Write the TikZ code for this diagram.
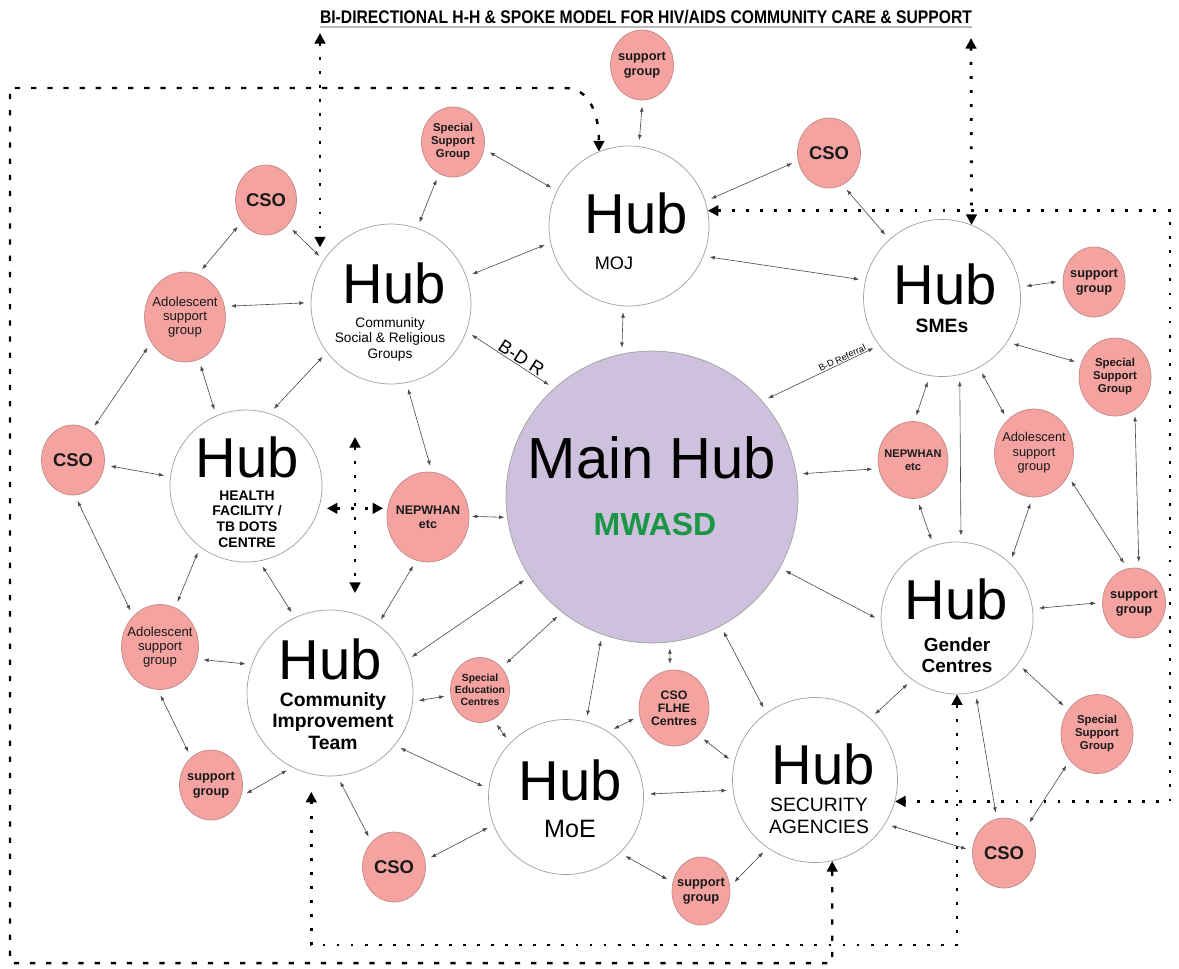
\documentclass[tikz,border=0pt]{standalone}
\usepackage{fontspec}
\usepackage{graphicx}
\setmainfont{Liberation Sans}
\usetikzlibrary{shapes.geometric,arrows.meta}
\definecolor{hubpurple}{HTML}{CEC1DE}
\definecolor{spotfill}{HTML}{F4A3A0}
\definecolor{spotline}{HTML}{C08A88}
\definecolor{mwasdgreen}{HTML}{1A9646}

\begin{document}
\begin{tikzpicture}[
  x=0.02cm, y=-0.02cm,
  hub/.style={circle, draw=gray!75, line width=0.4pt, fill=white, inner sep=0pt},
  hubword/.style={inner sep=0pt, font=\fontsize{32}{34}\selectfont},
  hubcap/.style={inner sep=0pt, align=center},
  spot/.style={ellipse, draw=spotline, line width=0.4pt, fill=spotfill, inner sep=-1cm,
               align=center, text=black!90, minimum width=1.26cm, minimum height=1.4cm,
               font=\bfseries\fontsize{7.3}{8.5}\selectfont},
  cso/.style={spot, font=\bfseries\fontsize{10.5}{12}\selectfont},
  ssg/.style={spot, font=\bfseries\fontsize{6.5}{7.4}\selectfont},
  ado/.style={spot, font=\fontsize{7.5}{8.2}\selectfont},
  nep/.style={spot, font=\bfseries\fontsize{7.1}{8}\selectfont},
  link/.style={>={Latex[length=3pt,width=2.2pt]}, <->, draw=black!70, line width=0.35pt,
               shorten <=3.5pt, shorten >=3.5pt},
  bidots/.style={>={Triangle[length=6pt,width=6pt]}, <->, line width=1.6pt,
                 dash pattern=on 1.6pt off 6.4pt},
  bidash/.style={>={Triangle[length=6pt,width=6pt]}, <->, line width=1.4pt,
                 dash pattern=on 3pt off 6.2pt},
]

\fill[white] (0,0) rectangle (1179,968);
\useasboundingbox (0,0) rectangle (1179,968);

\node[inner sep=0pt] (title) at (646,17)
  {\resizebox{13.04cm}{0.265cm}{\bfseries BI-DIRECTIONAL H-H \& SPOKE MODEL FOR HIV/AIDS COMMUNITY CARE \& SUPPORT}};
\draw[gray!55, line width=0.9pt] ([yshift=-2pt]title.base west) -- ([yshift=-2pt]title.base east);

\node[hub, minimum size=5.84cm, fill=hubpurple] (main) at (652,497) {};
\node[hub, minimum size=3.2cm] (moj) at (629,226) {};
\node[hub, minimum size=3.2cm] (csr) at (391,304) {};
\node[hub, minimum size=3.14cm] (smes) at (942,298) {};
\node[hub, minimum size=3.04cm] (hf) at (246,486) {};
\node[hub, minimum size=3.32cm] (cit) at (330,693) {};
\node[hub, minimum size=3.1cm] (moe) at (566,797) {};
\node[hub, minimum size=3.3cm] (sec) at (815,780) {};
\node[hub, minimum size=3.04cm] (gend) at (957,618) {};

\node[hubword, font=\fontsize{33}{35}\selectfont] (mainword) at (652,458) {Main Hub};
\node[hubcap, font=\bfseries\fontsize{18.2}{20}\selectfont, text=mwasdgreen] (maincap) at (655,524) {MWASD};
\node[hubword] (mojword) at (636,213) {Hub};
\node[hubcap, font=\fontsize{10.3}{12}\selectfont] (mojcap) at (614,263) {MOJ};
\node[hubword] (csrword) at (394,283) {Hub};
\node[hubcap, font=\fontsize{7.8}{8.8}\selectfont] (csrcap) at (390,339) {Community\\Social \& Religious\\Groups};
\node[hubword] (smesword) at (945,284) {Hub};
\node[hubcap, font=\bfseries\fontsize{11}{12}\selectfont] (smescap) at (942,326) {SMEs};
\node[hubword] (hfword) at (247,457) {Hub};
\node[hubcap, font=\bfseries\fontsize{7.9}{9}\selectfont] (hfcap) at (247,519) {HEALTH\\FACILITY /\\TB DOTS\\CENTRE};
\node[hubword] (citword) at (330,659) {Hub};
\node[hubcap, font=\bfseries\fontsize{11}{12.4}\selectfont] (citcap) at (333,721) {Community\\Improvement\\Team};
\node[hubword] (moeword) at (570,780) {Hub};
\node[hubcap, font=\fontsize{14.3}{16}\selectfont] (moecap) at (570,829) {MoE};
\node[hubword] (secword) at (823,764) {Hub};
\node[hubcap, font=\fontsize{11}{12.4}\selectfont] (seccap) at (819,816) {SECURITY\\AGENCIES};
\node[hubword] (gendword) at (956,599) {Hub};
\node[hubcap, font=\bfseries\fontsize{10.8}{12}\selectfont] (gendcap) at (957,655) {Gender\\Centres};

\node[spot] (sgtop) at (642,65) {support\\group};
\node[ssg] (ssga) at (453,142) {Special\\Support\\Group};
\node[cso, minimum width=1.22cm] (csoa) at (266,200) {CSO};
\node[cso] (csob) at (829,153) {CSO};
\node[ado, minimum width=1.62cm, minimum height=1.8cm] (adoa) at (185,317) {Adolescent\\support\\group};
\node[spot, minimum width=1.24cm] (sgb) at (1094,282) {support\\group};
\node[ssg, minimum width=1.44cm, minimum height=1.56cm] (ssgb) at (1115,377) {Special\\Support\\Group};
\node[cso] (csoc) at (73,460) {CSO};
\node[nep, minimum width=1.64cm, minimum height=1.8cm] (nepa) at (428,517) {NEPWHAN\\etc};
\node[nep, minimum width=1.4cm, minimum height=1.54cm, font=\bfseries\fontsize{6.3}{7.2}\selectfont] (nepb) at (913,460) {NEPWHAN\\etc};
\node[ado, minimum width=1.58cm, minimum height=1.76cm, font=\fontsize{7.3}{8.2}\selectfont] (adob) at (1034,453) {Adolescent\\support\\group};
\node[spot] (sgc) at (1134,603) {support\\group};
\node[ado, minimum width=1.54cm, minimum height=1.7cm] (adoc) at (160,647) {Adolescent\\support\\group};
\node[spot, minimum width=1.18cm, minimum height=1.3cm, font=\bfseries\fontsize{5.9}{6.8}\selectfont] (spedu) at (480,690) {Special\\Education\\Centres};
\node[spot, minimum width=1.4cm, minimum height=1.52cm, font=\bfseries\fontsize{7}{7.5}\selectfont] (cflhe) at (674,708) {CSO\\FLHE\\Centres};
\node[ssg, minimum width=1.44cm, minimum height=1.58cm] (ssgc) at (1097,734) {Special\\Support\\Group};
\node[spot] (sgd) at (211,785) {support\\group};
\node[cso] (csod) at (394,867) {CSO};
\node[spot, minimum width=1.16cm, minimum height=1.36cm] (sge) at (701,891) {support\\group};
\node[cso] (csoe) at (1004,853) {CSO};

\coordinate (csrtop) at (320,33);
\coordinate (smestop) at (971,38);
\coordinate (crosstop) at (355,437);
\coordinate (crossbot) at (355,593);
\coordinate (rightcol) at (1170,500);
\coordinate (botrow) at (0,945);
\coordinate (lowleft) at (10,963);
\coordinate (topleft) at (10,88);
\coordinate (topbend) at (565,88);

\draw[bidash] (sec.-78) -- (sec.-78 |- lowleft) -- (lowleft) -- (topleft) -- (topbend)
  .. controls (590,88) and (599,115) .. (moj.112);
\draw[bidots] (moj.11) -| (rightcol) |- (sec.-15);
\draw[bidots] (smestop) -- (smes.68);
\draw[bidots, shorten >=6pt] (csrtop) -- (csrtop |- csr.145);
\draw[bidots, shorten <=10pt] (cit.-103) -- (cit.-103 |- botrow) -| (gend.-90);
\draw[bidots] (crosstop) -- (crossbot);
\draw[bidots, shorten <=4.5pt, shorten >=2pt] (hf.-17) -- (hf.-17 -| nepa.west);

\draw[link] (ssga.-13) -- (moj.154);
\draw[link] (ssga.-114) -- (csr.71);
\draw[link] (sgtop.-89) -- (moj.83);
\draw[link] (csob.194) -- (moj.18);
\draw[link] (csob.-67) -- (smes.132);
\draw[link] (csoa.-49) -- (csr.147);
\draw[link] (csoa.-138) -- (adoa.73);
\draw[link] (adoa.15) -- (csr.179);
\draw[link] (csr.20) -- (moj.192);
\draw[link] (moj.-22) -- (smes.167);
\draw[link] (moj.-94) -- (main.102);
\draw[link] (csr.-20) -- node[sloped, above, pos=0.58, inner sep=0.5pt, font=\fontsize{10.5}{12}\selectfont] (bdr) {B-D R} (main.132);
\draw[link] (smes.-143) -- node[sloped, above, pos=0.3, inner sep=0.5pt, font=\fontsize{5.2}{6}\selectfont] (bdref) {B-D Referral} (main.41);
\draw[link] (smes.8) -- (sgb.178);
\draw[link] (smes.-34) -- (ssgb.158);
\draw[link] (smes.-99) -- (nepb.88);
\draw[link] (smes.-77) -- (gend.87);
\draw[link] (smes.-62) -- (adob.129);
\draw[link] (ssgb.-59) -- (sgc.82);
\draw[link] (adob.-34) -- (sgc.101);
\draw[link] (adob.-92) -- (gend.46);
\draw[link] (nepb.-84) -- (gend.108);
\draw[link] (main.9) -- (nepb.194);
\draw[link] (main.-29) -- (gend.182);
\draw[link] (gend.7) -- (sgc.179);
\draw[link] (gend.-37) -- (ssgc.140);
\draw[link] (gend.-126) -- (sec.48);
\draw[link] (gend.-76) -- (csoe.102);
\draw[link] (ssgc.-136) -- (csoe.49);
\draw[link] (sec.-32) -- (csoe.176);
\draw[link] (sec.-125) -- (sge.9);
\draw[link] (sec.187) -- (moe.2);
\draw[link] (main.-62) -- (sec.126);
\draw[link] (main.-83) -- (cflhe.96);
\draw[link] (cflhe.193) -- (moe.57);
\draw[link] (cflhe.-48) -- (sec.168);
\draw[link] (moe.75) -- (main.-110);
\draw[link] (moe.-46) -- (sge.163);
\draw[link] (moe.201) -- (csod.12);
\draw[link] (spedu.-66) -- (moe.136);
\draw[link] (cit.-6) -- (spedu.190);
\draw[link] (cit.-39) -- (moe.174);
\draw[link] (cit.-85) -- (csod.132);
\draw[link] (cit.-117) -- (sgd.-21);
\draw[link] (adoc.-18) -- (cit.160);
\draw[link] (adoc.-93) -- (sgd.126);
\draw[link] (spedu.46) -- (main.-128);
\draw[link] (cit.23) -- (main.213);
\draw[link] (nepa.-105) -- (cit.55);
\draw[link] (hf.-80) -- (cit.115);
\draw[link] (hf.-127) -- (adoc.69);
\draw[link] (csoc.-87) -- (adoc.131);
\draw[link] (csoc.-9) -- (hf.173);
\draw[link] (csoc.58) -- (adoa.217);
\draw[link] (adoa.-72) -- (hf.113);
\draw[link] (csr.217) -- (hf.72);
\draw[link] (csr.-79) -- (nepa.85);
\draw[link, shorten <=1.5pt, shorten >=1.5pt] (nepa.1) -- (main.188);

\end{tikzpicture}
\end{document}
